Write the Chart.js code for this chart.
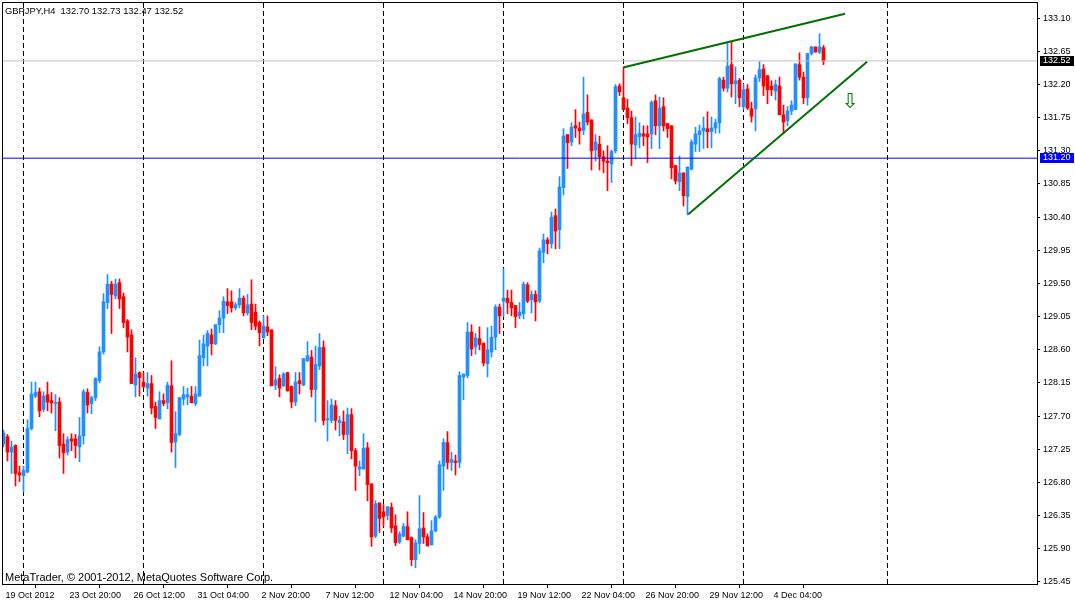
<!DOCTYPE html>
<html>
<head>
<meta charset="utf-8">
<script src="https://cdn.jsdelivr.net/npm/chart.js@4.4.1/dist/chart.umd.min.js"></script>
<style>
html, body { margin: 0; padding: 0; background: #fff; }
#wrap { width: 1075px; height: 602px; }
</style>
</head>
<body>
<div id="wrap"><canvas id="chart" width="1075" height="602"></canvas></div>
<script>
// GBPJPY H4 candles, one entry per bar (bar index = position on the time axis)
const symbol = 'GBPJPY,H4';
const opens = [
  127.32,127.42,127.21,127.30,126.93,126.89,126.94,127.53,127.97,128.03,
  127.79,127.99,127.91,127.87,127.89,127.32,127.21,127.39,127.39,127.28,
  127.43,128.02,127.87,127.95,128.18,128.57,129.24,129.49,129.33,129.51,
  129.32,128.99,128.80,128.12,128.29,128.16,128.08,128.14,127.83,127.66,
  127.91,127.88,128.11,127.35,127.45,127.93,127.96,127.97,127.87,127.97,
  128.49,128.65,128.80,128.68,128.94,129.03,129.25,129.25,129.17,129.21,
  129.30,129.10,129.22,129.11,128.97,128.76,128.91,128.87,128.12,128.21,
  128.11,128.29,128.10,127.89,128.18,128.12,128.45,128.50,128.06,128.38,
  128.63,127.65,127.64,127.84,127.61,127.62,127.45,127.72,127.23,126.98,
  126.98,127.27,126.78,126.07,126.52,126.40,126.35,126.46,126.21,125.99,
  126.07,126.20,126.05,125.75,125.97,126.18,126.06,125.95,126.14,126.33,
  127.02,127.34,127.07,127.09,127.07,128.23,128.25,128.84,128.64,128.75,
  128.69,128.41,128.57,128.77,129.18,129.26,129.30,129.24,129.20,129.06,
  129.09,129.48,129.28,129.35,129.26,129.92,130.09,130.04,130.42,130.23,
  130.80,131.52,131.42,131.64,131.61,131.58,131.82,131.72,131.31,131.39,
  131.22,131.16,131.12,131.30,132.18,132.02,131.88,131.75,131.38,131.49,
  131.53,131.53,131.53,131.98,131.64,131.90,131.67,131.64,131.10,130.88,
  131.00,130.68,131.05,131.39,131.52,131.57,131.60,131.56,131.61,131.68,
  132.26,132.15,132.47,132.21,132.26,131.90,132.14,131.87,131.87,132.29,
  132.41,132.32,132.18,132.11,132.18,131.79,131.71,131.84,131.86,132.47,
  132.30,132.02,132.62,132.71,132.64,132.70
];
const highs = [
  127.51,127.45,127.36,127.31,127.02,127.02,127.65,128.16,128.16,128.08,
  128.03,128.16,128.02,127.99,127.95,127.46,127.42,127.46,127.45,127.68,
  128.06,128.07,127.97,128.22,128.64,129.36,129.62,129.53,129.56,129.56,
  129.37,129.01,128.87,128.49,128.30,128.29,128.29,128.25,127.89,128.03,
  128.00,128.16,128.45,127.76,127.95,128.10,128.08,128.10,128.10,128.73,
  128.80,128.86,128.88,128.94,129.13,129.32,129.43,129.40,129.24,129.43,
  129.33,129.35,129.55,129.22,128.99,129.06,129.06,128.87,128.37,128.26,
  128.29,128.29,128.11,128.29,128.29,128.48,128.71,128.59,128.65,128.82,
  128.72,127.91,127.93,127.91,127.70,127.77,127.81,127.80,127.26,127.09,
  127.46,127.34,126.78,126.55,126.52,126.50,126.47,126.52,126.36,126.13,
  126.24,126.40,126.06,126.02,126.62,126.39,126.10,126.28,126.35,127.09,
  127.39,127.49,127.21,127.17,128.30,128.27,128.97,128.94,128.82,128.91,
  128.69,128.90,128.92,129.21,129.22,129.70,129.41,129.41,129.20,129.24,
  129.52,129.51,129.40,129.40,129.98,130.17,130.12,130.47,130.51,130.95,
  131.60,131.52,131.68,131.86,131.69,132.30,132.06,131.72,131.52,131.50,
  131.30,131.37,131.31,132.20,132.21,132.43,132.00,131.84,131.76,131.68,
  131.64,131.64,131.98,132.06,132.03,132.02,131.67,131.64,131.10,131.23,
  131.00,131.08,131.45,131.62,131.65,131.76,131.83,131.76,131.73,132.30,
  132.30,132.76,132.79,132.44,132.28,132.20,132.20,131.96,132.33,132.51,
  132.47,132.32,132.25,132.26,132.30,131.92,131.90,131.98,132.48,132.63,
  132.37,132.62,132.72,132.71,132.89,132.73
];
const lows = [
  127.28,127.09,126.92,126.75,126.81,126.67,126.93,127.51,127.95,127.69,
  127.76,127.77,127.74,127.50,127.13,126.92,127.17,127.23,127.13,127.08,
  127.32,127.74,127.73,127.91,128.15,128.54,129.16,128.82,129.29,129.16,
  128.90,128.57,128.14,127.96,127.97,128.08,127.97,127.73,127.53,127.66,
  127.84,127.80,127.21,127.00,127.43,127.85,127.85,127.88,127.84,127.97,
  128.38,128.38,128.53,128.67,128.83,128.83,129.09,129.11,129.14,129.17,
  129.06,129.07,128.87,128.87,128.65,128.76,128.79,128.11,128.06,127.96,
  128.10,128.04,127.81,127.84,128.00,128.11,128.44,127.96,127.62,128.33,
  127.58,127.36,127.61,127.51,127.43,127.38,127.19,127.12,126.69,126.89,
  126.98,126.55,125.93,126.05,126.12,126.20,126.29,126.12,125.94,125.97,
  126.06,126.02,125.67,125.64,125.83,125.97,125.93,125.95,126.13,126.31,
  126.69,126.98,126.96,126.90,127.00,127.92,128.22,128.52,128.54,128.60,
  128.38,128.23,128.50,128.60,128.82,129.05,129.09,129.06,128.90,129.02,
  129.02,129.24,129.10,128.99,129.24,129.78,129.90,129.98,129.97,129.97,
  130.70,131.06,131.37,131.48,131.39,131.52,131.65,131.04,131.16,131.04,
  131.00,130.76,130.87,131.27,132.05,131.86,131.67,131.10,131.19,131.34,
  131.37,131.14,131.33,131.52,131.33,131.57,131.48,130.92,130.85,130.76,
  130.55,130.43,131.04,131.29,131.29,131.33,131.34,131.34,131.54,131.54,
  132.11,132.10,132.03,131.94,131.90,131.86,131.86,131.69,131.57,132.24,
  132.05,131.94,132.05,131.99,131.79,131.54,131.64,131.79,131.86,132.26,
  131.94,131.92,132.60,132.64,132.62,132.47
];
const closes = [
  127.47,127.21,127.28,126.92,126.90,126.96,127.53,128.00,128.02,127.77,
  127.97,127.89,127.88,127.88,127.30,127.20,127.38,127.36,127.30,127.43,
  128.03,127.85,127.95,128.21,128.57,129.25,129.49,129.35,129.49,129.29,
  128.97,128.77,128.14,128.27,128.22,128.10,128.14,127.81,127.68,127.91,
  127.87,128.12,127.34,127.46,127.95,127.99,127.99,127.88,128.00,128.52,
  128.68,128.82,128.68,128.94,129.03,129.26,129.20,129.17,129.21,129.30,
  129.10,129.21,128.97,128.92,128.83,128.92,128.84,128.11,128.19,128.08,
  128.27,128.04,127.89,128.16,128.14,128.48,128.52,128.06,128.40,128.63,
  127.64,127.66,127.85,127.64,127.64,127.45,127.72,127.23,127.02,127.01,
  127.26,126.77,126.06,126.51,126.31,126.33,126.47,126.18,125.98,126.10,
  126.20,126.02,125.75,125.98,126.17,126.06,125.94,126.14,126.33,127.04,
  127.34,127.07,127.11,127.07,128.25,128.27,128.84,128.61,128.76,128.67,
  128.42,128.60,128.77,129.18,129.06,129.30,129.24,129.17,129.05,129.11,
  129.49,129.26,129.35,129.25,129.94,130.09,130.04,130.40,130.21,130.81,
  131.50,131.41,131.62,131.61,131.57,131.80,131.69,131.30,131.42,131.22,
  131.16,131.14,131.29,132.17,132.10,131.86,131.75,131.39,131.52,131.54,
  131.50,131.49,131.96,131.64,131.88,131.64,131.60,131.07,130.89,131.00,
  130.69,131.08,131.42,131.53,131.57,131.61,131.56,131.61,131.68,132.28,
  132.15,132.45,132.21,132.25,132.02,132.13,131.88,131.77,132.29,132.40,
  132.18,132.13,132.13,132.20,131.79,131.69,131.84,131.92,132.48,132.30,
  132.02,132.62,132.71,132.64,132.71,132.52
];

// time axis labels (bar index -> text)
const timeTicks = [0, 16, 32, 48, 64, 80, 96, 112, 128, 144, 160, 176, 192];
const timeLabels = ['19 Oct 2012', '23 Oct 20:00', '26 Oct 12:00', '31 Oct 04:00', '2 Nov 20:00',
  '7 Nov 12:00', '12 Nov 04:00', '14 Nov 20:00', '19 Nov 12:00', '22 Nov 04:00',
  '26 Nov 20:00', '29 Nov 12:00', '4 Dec 04:00'];
const priceTicks = [125.45, 125.90, 126.35, 126.80, 127.25, 127.70, 128.15, 128.60, 129.05,
  129.50, 129.95, 130.40, 130.85, 131.30, 131.75, 132.20, 132.65, 133.10];

// period separators (bar index) and drawn objects
const separators = [5, 35, 65, 95, 125, 155, 185, 221];
const upperTrend = [[154.9, 132.43], [210.4, 133.16]];
const lowerTrend = [[171.2, 130.44], [215.9, 132.51]];
const levelLine = 131.20;
const sellArrow = [211.7, 131.95];

const yMin = 125.42, yMax = 133.32;
const xMin = -0.375, xMax = 258.375;

const UP = '#1E90FF', DOWN = '#FF0000';
const idx = opens.map((_, i) => i);
const colors = idx.map(i => closes[i] >= opens[i] ? UP : DOWN);
const last = closes.length - 1;

function hline(v, color, order) {
    return {
        type: 'line', data: [{x: xMin, y: v}, {x: xMax, y: v}],
        borderColor: color, borderWidth: 1, pointRadius: 0, fill: false, order: order
    };
}
function trend(pts) {
    return {
        type: 'line', data: pts.map(p => ({x: p[0], y: p[1]})),
        borderColor: '#007000', borderWidth: 2, pointRadius: 0, fill: false, order: 0
    };
}
// drop the label overhang padding so the plot fills the frame
function noPad(s) {
    s.paddingTop = 0; s.paddingBottom = 0; s.paddingLeft = 0; s.paddingRight = 0;
}

let datasets = separators.map(k => ({
    type: 'line', data: [{x: k, y: yMin}, {x: k, y: yMax}],
    borderColor: '#000', borderWidth: 1, borderDash: [5, 3], pointRadius: 0, fill: false, order: 9
}));
datasets.push({
    type: 'bar', data: idx.map(i => ({x: i, y: [lows[i], highs[i]]})),
    backgroundColor: colors, barThickness: 1, grouped: false, order: 4
});
datasets.push({
    type: 'bar', data: idx.map(i => ({x: i, y: [opens[i], closes[i]]})),
    backgroundColor: colors, barThickness: 3, minBarLength: 1, grouped: false, order: 3
});
datasets.push(hline(closes[last], '#C0C0C0', 2));
datasets.push(hline(levelLine, '#0000FF', 1));
datasets.push(trend(upperTrend));
datasets.push(trend(lowerTrend));

const overlay = {
    id: 'overlay',
    afterDraw(chart) {
        const {ctx, chartArea: a, scales: {x, y}} = chart;
        ctx.save();
        ctx.strokeStyle = '#000';
        ctx.lineWidth = 1;
        ctx.strokeRect(a.left + 0.5, a.top + 0.5, a.right - a.left, a.bottom - a.top);

        ctx.textBaseline = 'middle';
        ctx.textAlign = 'left';
        ctx.fillStyle = '#000';
        ctx.font = '9.4px "Liberation Sans"';
        let head = symbol + '  ' + [opens[last], highs[last], lows[last], closes[last]].map(v => v.toFixed(2)).join(' ');
        ctx.fillText(head, a.left + 3, a.top + 9);
        ctx.font = '11px "Liberation Sans"';
        ctx.fillText('MetaTrader, \u00a9 2001-2012, MetaQuotes Software Corp.', a.left + 3, a.bottom - 6);

        ctx.font = '9px "Liberation Sans"';
        function box(v, bg) {
            let py = Math.round(y.getPixelForValue(v));
            ctx.fillStyle = bg;
            ctx.fillRect(a.right + 3, py - 5, 34, 10);
            ctx.fillStyle = '#fff';
            ctx.fillText(v.toFixed(2), a.right + 6, py);
        }
        box(closes[last], '#000');
        box(levelLine, '#0000FF');

        ctx.fillStyle = '#008000';
        ctx.font = '21px "DejaVu Sans"';
        ctx.textAlign = 'center';
        ctx.fillText('\u21e9', x.getPixelForValue(sellArrow[0]), y.getPixelForValue(sellArrow[1]));
        ctx.restore();
    }
};

Chart.defaults.font.family = 'Liberation Sans';
Chart.defaults.font.size = 9;
Chart.defaults.color = '#000';

var ctx = document.getElementById('chart').getContext('2d');
var chart = new Chart(ctx, {
    type: 'bar',
    data: {datasets: datasets},
    options: {
        responsive: false,
        animation: false,
        layout: {padding: {left: 2, top: 2, right: 0, bottom: 0}},
        plugins: {legend: {display: false}, tooltip: {enabled: false}},
        scales: {
            x: {
                type: 'linear', min: xMin, max: xMax, offset: false,
                grid: {display: true, drawOnChartArea: false, drawTicks: true, tickLength: 4, color: '#000'},
                border: {display: true, color: '#000'},
                afterBuildTicks: s => { s.ticks = timeTicks.map(v => ({value: v})); },
                afterFit: s => { s.height = 18; noPad(s); },
                ticks: {
                    autoSkip: false, maxRotation: 0, align: 'start', labelOffset: 2, padding: 2,
                    callback: (v, i) => timeLabels[i]
                }
            },
            y: {
                position: 'right', min: yMin, max: yMax,
                grid: {display: true, drawOnChartArea: false, drawTicks: true, tickLength: 3, color: '#000'},
                border: {display: true, color: '#000'},
                afterBuildTicks: s => { s.ticks = priceTicks.map(v => ({value: v})); },
                afterFit: s => { s.width = 38; noPad(s); },
                ticks: {autoSkip: false, padding: 3, callback: v => v.toFixed(2)}
            }
        }
    },
    plugins: [overlay]
});
</script>
</body>
</html>
